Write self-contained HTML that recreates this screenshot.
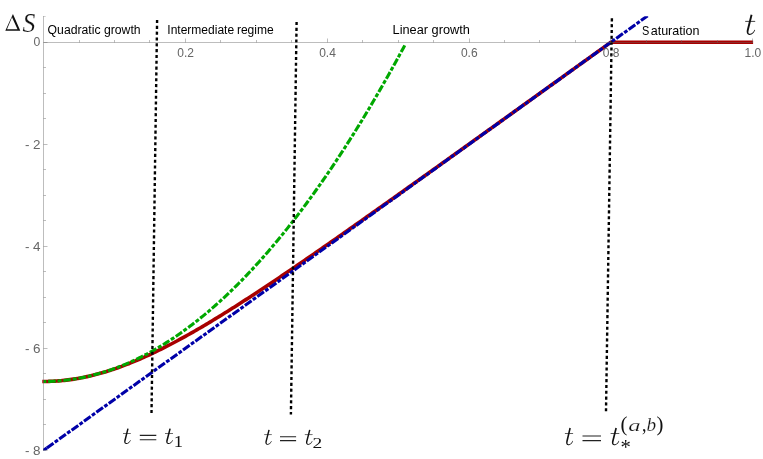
<!DOCTYPE html>
<html><head><meta charset="utf-8">
<style>
html,body{margin:0;padding:0;background:#fff;}
body{width:763px;height:459px;overflow:hidden;}
svg{display:block;will-change:transform;}
text{font-family:"Liberation Sans",sans-serif;}
.ser{font-family:"Liberation Serif",serif;}
</style></head><body>
<svg width="763" height="459" viewBox="0 0 763 459">
<rect width="763" height="459" fill="#fff"/>
<!-- region labels -->
<g fill="#000" font-size="12.3">
<text x="47.6" y="33.7" textLength="93" lengthAdjust="spacingAndGlyphs">Quadratic growth</text>
<text x="167.3" y="33.7" textLength="66.8" lengthAdjust="spacingAndGlyphs">Intermediate</text>
<text x="236.9" y="33.7" textLength="36.8" lengthAdjust="spacingAndGlyphs">regime</text>
<text x="392.6" y="33.7" textLength="77.3" lengthAdjust="spacingAndGlyphs">Linear growth</text>
<text x="641.9" y="35.3" font-size="12.9" textLength="7.3" lengthAdjust="spacingAndGlyphs">S</text>
<text x="650.7" y="35.3" font-size="12.9" textLength="48.8" lengthAdjust="spacingAndGlyphs">aturation</text>
</g>
<defs><clipPath id="cp"><rect x="43" y="16.2" width="720" height="434.4"/></clipPath></defs>
<!-- curves -->
<path d="M42.30,381.47 L43.60,381.47 L45.49,381.46 L47.38,381.43 L49.27,381.39 L51.16,381.32 L53.05,381.24 L54.94,381.14 L56.83,381.01 L58.73,380.88 L60.62,380.72 L62.51,380.54 L64.40,380.35 L66.29,380.14 L68.18,379.90 L70.07,379.66 L71.96,379.39 L73.85,379.11 L75.74,378.80 L77.63,378.48 L79.52,378.15 L81.41,377.79 L83.30,377.42 L85.19,377.03 L87.09,376.62 L88.98,376.20 L90.87,375.76 L92.76,375.30 L94.65,374.83 L96.54,374.34 L98.43,373.84 L100.32,373.32 L102.21,372.78 L104.10,372.23 L105.99,371.66 L107.88,371.07 L109.77,370.48 L111.66,369.86 L113.55,369.23 L115.45,368.59 L117.34,367.93 L119.23,367.26 L121.12,366.58 L123.01,365.88 L124.90,365.17 L126.79,364.44 L128.68,363.70 L130.57,362.95 L132.46,362.18 L134.35,361.41 L136.24,360.62 L138.13,359.81 L140.02,359.00 L141.91,358.17 L143.81,357.33 L145.70,356.48 L147.59,355.62 L149.48,354.75 L151.37,353.87 L153.26,352.98 L155.15,352.07 L157.04,351.16 L158.93,350.23 L160.82,349.30 L162.71,348.36 L164.60,347.40 L166.49,346.44 L168.38,345.47 L170.27,344.49 L172.17,343.50 L174.06,342.50 L175.95,341.49 L177.84,340.48 L179.73,339.45 L181.62,338.42 L183.51,337.38 L185.40,336.33 L187.29,335.28 L189.18,334.22 L191.07,333.15 L192.96,332.07 L194.85,330.99 L196.74,329.90 L198.63,328.80 L200.53,327.70 L202.42,326.59 L204.31,325.48 L206.20,324.35 L208.09,323.23 L209.98,322.09 L211.87,320.96 L213.76,319.81 L215.65,318.66 L217.54,317.51 L219.43,316.35 L221.32,315.18 L223.21,314.01 L225.10,312.84 L226.99,311.66 L228.89,310.48 L230.78,309.29 L232.67,308.09 L234.56,306.90 L236.45,305.70 L238.34,304.49 L240.23,303.28 L242.12,302.07 L244.01,300.85 L245.90,299.63 L247.79,298.41 L249.68,297.18 L251.57,295.95 L253.46,294.72 L255.35,293.48 L257.25,292.24 L259.14,291.00 L261.03,289.75 L262.92,288.50 L264.81,287.25 L266.70,285.99 L268.59,284.73 L270.48,283.47 L272.37,282.21 L274.26,280.94 L276.15,279.68 L278.04,278.40 L279.93,277.13 L281.82,275.86 L283.71,274.58 L285.61,273.30 L287.50,272.02 L289.39,270.73 L291.28,269.45 L293.17,268.16 L295.06,266.87 L296.95,265.58 L298.84,264.29 L300.73,262.99 L302.62,261.69 L304.51,260.40 L306.40,259.10 L308.29,257.79 L310.18,256.49 L312.07,255.19 L313.97,253.88 L315.86,252.57 L317.75,251.26 L319.64,249.95 L321.53,248.64 L323.42,247.33 L325.31,246.01 L327.20,244.70 L329.09,243.38 L330.98,242.07 L332.87,240.75 L334.76,239.43 L336.65,238.11 L338.54,236.78 L340.43,235.46 L342.33,234.14 L344.22,232.81 L346.11,231.49 L348.00,230.16 L349.89,228.83 L351.78,227.50 L353.67,226.17 L355.56,224.84 L357.45,223.51 L359.34,222.18 L361.23,220.85 L363.12,219.51 L365.01,218.18 L366.90,216.84 L368.79,215.51 L370.69,214.17 L372.58,212.84 L374.47,211.50 L376.36,210.16 L378.25,208.82 L380.14,207.48 L382.03,206.14 L383.92,204.80 L385.81,203.46 L387.70,202.12 L389.59,200.78 L391.48,199.44 L393.37,198.10 L395.26,196.75 L397.15,195.41 L399.05,194.06 L400.94,192.72 L402.83,191.38 L404.72,190.03 L406.61,188.68 L408.50,187.34 L410.39,185.99 L412.28,184.64 L414.17,183.30 L416.06,181.95 L417.95,180.60 L419.84,179.25 L421.73,177.91 L423.62,176.56 L425.51,175.21 L427.41,173.86 L429.30,172.51 L431.19,171.16 L433.08,169.81 L434.97,168.46 L436.86,167.11 L438.75,165.76 L440.64,164.40 L442.53,163.05 L444.42,161.70 L446.31,160.35 L448.20,159.00 L450.09,157.64 L451.98,156.29 L453.87,154.94 L455.77,153.59 L457.66,152.23 L459.55,150.88 L461.44,149.53 L463.33,148.17 L465.22,146.82 L467.11,145.46 L469.00,144.11 L470.89,142.76 L472.78,141.40 L474.67,140.05 L476.56,138.69 L478.45,137.34 L480.34,135.98 L482.23,134.63 L484.13,133.27 L486.02,131.92 L487.91,130.56 L489.80,129.21 L491.69,127.85 L493.58,126.49 L495.47,125.14 L497.36,123.78 L499.25,122.42 L501.14,121.07 L503.03,119.71 L504.92,118.36 L506.81,117.00 L508.70,115.64 L510.59,114.29 L512.49,112.93 L514.38,111.57 L516.27,110.21 L518.16,108.86 L520.05,107.50 L521.94,106.14 L523.83,104.79 L525.72,103.43 L527.61,102.07 L529.50,100.71 L531.39,99.36 L533.28,98.00 L535.17,96.64 L537.06,95.28 L538.95,93.92 L540.85,92.57 L542.74,91.21 L544.63,89.85 L546.52,88.49 L548.41,87.13 L550.30,85.78 L552.19,84.42 L554.08,83.06 L555.97,81.70 L557.86,80.34 L559.75,78.98 L561.64,77.63 L563.53,76.27 L565.42,74.91 L567.31,73.55 L569.21,72.19 L571.10,70.83 L572.99,69.47 L574.88,68.11 L576.77,66.76 L578.66,65.40 L580.55,64.04 L582.44,62.68 L584.33,61.32 L586.22,59.96 L588.11,58.60 L590.00,57.24 L591.89,55.88 L593.78,54.53 L595.67,53.17 L597.57,51.81 L599.46,50.45 L601.35,49.09 L603.24,47.73 L605.13,46.37 L607.02,45.01 L608.91,43.65 L610.80,42.32 L753.10,42.32" fill="none" stroke="#a80000" stroke-width="3.6" stroke-linejoin="round"/>
<path d="M43.60,381.47 L45.41,381.46 L47.22,381.44 L49.03,381.39 L50.84,381.33 L52.65,381.26 L54.46,381.17 L56.27,381.06 L58.08,380.93 L59.89,380.79 L61.70,380.63 L63.51,380.45 L65.32,380.25 L67.13,380.04 L68.94,379.82 L70.75,379.57 L72.56,379.31 L74.37,379.03 L76.18,378.73 L77.99,378.42 L79.80,378.09 L81.61,377.75 L83.42,377.38 L85.23,377.00 L87.04,376.61 L88.85,376.19 L90.66,375.76 L92.47,375.32 L94.28,374.85 L96.09,374.37 L97.90,373.87 L99.71,373.36 L101.52,372.83 L103.33,372.28 L105.14,371.71 L106.95,371.13 L108.76,370.53 L110.57,369.91 L112.38,369.28 L114.19,368.63 L116.00,367.96 L117.81,367.28 L119.62,366.58 L121.43,365.86 L123.24,365.13 L125.05,364.37 L126.86,363.61 L128.67,362.82 L130.48,362.02 L132.29,361.20 L134.10,360.36 L135.91,359.51 L137.72,358.64 L139.53,357.76 L141.34,356.85 L143.15,355.93 L144.96,354.99 L146.77,354.04 L148.58,353.07 L150.39,352.08 L152.20,351.08 L154.01,350.06 L155.82,349.02 L157.63,347.96 L159.44,346.89 L161.25,345.80 L163.06,344.70 L164.87,343.57 L166.68,342.43 L168.49,341.28 L170.30,340.10 L172.11,338.91 L173.92,337.70 L175.73,336.48 L177.54,335.24 L179.35,333.98 L181.16,332.71 L182.97,331.42 L184.78,330.11 L186.59,328.78 L188.40,327.44 L190.21,326.08 L192.02,324.70 L193.83,323.31 L195.64,321.90 L197.45,320.47 L199.26,319.03 L201.07,317.57 L202.88,316.09 L204.69,314.60 L206.50,313.09 L208.31,311.56 L210.12,310.01 L211.93,308.45 L213.74,306.87 L215.55,305.28 L217.36,303.67 L219.17,302.04 L220.98,300.39 L222.79,298.73 L224.60,297.05 L226.41,295.35 L228.22,293.64 L230.03,291.91 L231.84,290.16 L233.65,288.39 L235.46,286.61 L237.27,284.81 L239.08,283.00 L240.89,281.17 L242.70,279.32 L244.51,277.45 L246.32,275.57 L248.13,273.67 L249.94,271.75 L251.75,269.82 L253.56,267.87 L255.37,265.90 L257.18,263.92 L258.99,261.92 L260.80,259.90 L262.61,257.87 L264.42,255.81 L266.23,253.75 L268.04,251.66 L269.85,249.56 L271.66,247.44 L273.47,245.30 L275.28,243.15 L277.09,240.98 L278.90,238.79 L280.71,236.59 L282.52,234.37 L284.33,232.13 L286.14,229.88 L287.95,227.61 L289.76,225.32 L291.57,223.02 L293.38,220.69 L295.19,218.36 L297.00,216.00 L298.81,213.63 L300.62,211.24 L302.43,208.83 L304.24,206.41 L306.05,203.97 L307.86,201.51 L309.67,199.04 L311.48,196.55 L313.29,194.04 L315.10,191.52 L316.91,188.98 L318.72,186.42 L320.53,183.84 L322.34,181.25 L324.15,178.64 L325.96,176.02 L327.77,173.37 L329.58,170.72 L331.39,168.04 L333.20,165.35 L335.01,162.64 L336.82,159.91 L338.63,157.17 L340.44,154.40 L342.25,151.63 L344.06,148.83 L345.87,146.02 L347.68,143.19 L349.49,140.35 L351.30,137.49 L353.11,134.61 L354.92,131.71 L356.73,128.80 L358.54,125.87 L360.35,122.92 L362.16,119.96 L363.97,116.98 L365.78,113.98 L367.59,110.97 L369.40,107.94 L371.21,104.89 L373.02,101.83 L374.83,98.74 L376.64,95.65 L378.45,92.53 L380.26,89.40 L382.07,86.25 L383.88,83.08 L385.69,79.90 L387.50,76.70 L389.31,73.49 L391.12,70.25 L392.93,67.00 L394.74,63.73 L396.55,60.45 L398.36,57.15 L400.17,53.83 L401.98,50.50 L403.79,47.15 L405.60,43.78" fill="none" stroke="#00a800" stroke-width="3.1" stroke-dasharray="7.62 1.81 4.01 1.81" stroke-dashoffset="10.74"/>
<g clip-path="url(#cp)"><path d="M41.16,452.07 L46.85,447.98" fill="none" stroke="#0000a8" stroke-width="3.1"/>
<path d="M46.85,447.98 L647.66,15.81" fill="none" stroke="#0000a8" stroke-width="3.1" stroke-dasharray="8.2 1.624 3.8 1.624"/></g>
<!-- dotted verticals -->
<g stroke="#000" stroke-width="2.4" fill="none" stroke-dasharray="3.1 2.72">
<line x1="157.1" y1="20" x2="151.5" y2="413.3"/>
<line x1="296.6" y1="22" x2="290.9" y2="414.6"/>
<line x1="611.9" y1="18.3" x2="606" y2="411.2"/>
</g>
<!-- axes -->
<g stroke="#666" stroke-opacity="0.43" stroke-width="1" fill="none">
<line x1="43.5" y1="16" x2="43.5" y2="451"/>
<line x1="43.5" y1="42.5" x2="753.00" y2="42.5"/>
<line x1="43.5" y1="16.5" x2="45.7" y2="16.5" stroke-opacity="0.3"/>
<line x1="79.50" y1="42.50" x2="79.50" y2="40.00"/>
<line x1="114.50" y1="42.50" x2="114.50" y2="40.00"/>
<line x1="149.50" y1="42.50" x2="149.50" y2="40.00"/>
<line x1="185.50" y1="42.50" x2="185.50" y2="38.50"/>
<line x1="220.50" y1="42.50" x2="220.50" y2="40.00"/>
<line x1="256.50" y1="42.50" x2="256.50" y2="40.00"/>
<line x1="291.50" y1="42.50" x2="291.50" y2="40.00"/>
<line x1="327.50" y1="42.50" x2="327.50" y2="38.50"/>
<line x1="362.50" y1="42.50" x2="362.50" y2="40.00"/>
<line x1="398.50" y1="42.50" x2="398.50" y2="40.00"/>
<line x1="433.50" y1="42.50" x2="433.50" y2="40.00"/>
<line x1="469.50" y1="42.50" x2="469.50" y2="38.50"/>
<line x1="504.50" y1="42.50" x2="504.50" y2="40.00"/>
<line x1="539.50" y1="42.50" x2="539.50" y2="40.00"/>
<line x1="575.50" y1="42.50" x2="575.50" y2="40.00"/>
<line x1="610.50" y1="42.50" x2="610.50" y2="38.50"/>
<line x1="646.50" y1="42.50" x2="646.50" y2="40.00"/>
<line x1="681.50" y1="42.50" x2="681.50" y2="40.00"/>
<line x1="717.50" y1="42.50" x2="717.50" y2="40.00"/>
<line x1="752.50" y1="42.50" x2="752.50" y2="38.50"/>
<line x1="43.50" y1="42.50" x2="47.50" y2="42.50"/>
<line x1="43.50" y1="67.50" x2="46.00" y2="67.50"/>
<line x1="43.50" y1="93.50" x2="46.00" y2="93.50"/>
<line x1="43.50" y1="118.50" x2="46.00" y2="118.50"/>
<line x1="43.50" y1="144.50" x2="47.50" y2="144.50"/>
<line x1="43.50" y1="169.50" x2="46.00" y2="169.50"/>
<line x1="43.50" y1="195.50" x2="46.00" y2="195.50"/>
<line x1="43.50" y1="220.50" x2="46.00" y2="220.50"/>
<line x1="43.50" y1="246.50" x2="47.50" y2="246.50"/>
<line x1="43.50" y1="271.50" x2="46.00" y2="271.50"/>
<line x1="43.50" y1="297.50" x2="46.00" y2="297.50"/>
<line x1="43.50" y1="322.50" x2="46.00" y2="322.50"/>
<line x1="43.50" y1="348.50" x2="47.50" y2="348.50"/>
<line x1="43.50" y1="373.50" x2="46.00" y2="373.50"/>
<line x1="43.50" y1="399.50" x2="46.00" y2="399.50"/>
<line x1="43.50" y1="424.50" x2="46.00" y2="424.50"/>
<line x1="43.50" y1="450.50" x2="47.50" y2="450.50"/>
</g>
<!-- tick labels -->
<g fill="#666" font-size="12.2">
<text x="185.70" y="56.9" text-anchor="middle" textLength="16.7" lengthAdjust="spacingAndGlyphs">0.2</text>
<text x="327.50" y="56.9" text-anchor="middle" textLength="16.7" lengthAdjust="spacingAndGlyphs">0.4</text>
<text x="469.30" y="56.9" text-anchor="middle" textLength="16.7" lengthAdjust="spacingAndGlyphs">0.6</text>
<text x="611.10" y="56.9" text-anchor="middle" textLength="16.7" lengthAdjust="spacingAndGlyphs">0.8</text>
<text x="752.90" y="56.9" text-anchor="middle" textLength="16.7" lengthAdjust="spacingAndGlyphs">1.0</text>
<text x="40.4" y="46.32" text-anchor="end">0</text>
<text x="40.6" y="148.72" text-anchor="end" textLength="15.7" lengthAdjust="spacingAndGlyphs">- 2</text>
<text x="40.6" y="250.72" text-anchor="end" textLength="15.7" lengthAdjust="spacingAndGlyphs">- 4</text>
<text x="40.6" y="352.72" text-anchor="end" textLength="15.7" lengthAdjust="spacingAndGlyphs">- 6</text>
<text x="40.6" y="454.72" text-anchor="end" textLength="15.7" lengthAdjust="spacingAndGlyphs">- 8</text>
</g>
<!-- math labels -->
<path fill-rule="evenodd" fill="#111" d="M12.95,14.1 L20.3,30.8 L5.3,30.8 Z M12.0,17.3 L17.5,29.2 L7.0,29.2 Z"/>
<text transform="translate(22.54,31.84) scale(0.972,1)" font-size="26.42" font-style="italic" class="ser" fill="#111" stroke="#fff" stroke-width="0.20">S</text>
<path d="M750.63,14.48 L746.83,30.08 L746.73,30.75 L746.70,31.37 L746.72,31.97 L746.80,32.53 L746.94,33.05 L747.15,33.53 L747.42,33.96 L747.76,34.32 L748.16,34.60 L748.61,34.79 L749.10,34.89 L749.60,34.90 L750.19,34.84 L750.77,34.70 L751.33,34.49 L751.87,34.21 L752.38,33.86 L752.87,33.46 L753.33,32.99 L753.76,32.48 L754.15,31.91 L754.52,31.29 L754.85,30.63 L755.15,29.93 L754.55,29.67 L754.24,30.33 L753.89,30.93 L753.53,31.48 L753.13,31.97 L752.72,32.41 L752.29,32.79 L751.85,33.12 L751.41,33.38 L750.96,33.58 L750.50,33.71 L750.05,33.79 L749.60,33.80 L749.30,33.74 L749.06,33.64 L748.87,33.51 L748.72,33.35 L748.61,33.15 L748.52,32.92 L748.45,32.64 L748.42,32.30 L748.42,31.92 L748.46,31.49 L748.54,31.02 L748.67,30.52 L752.47,14.92Z" fill="#111"/><path d="M745.20,20.90 H755.20 V21.70 H745.20Z" fill="#111"/>
<path d="M127.23,428.53 L124.27,440.29 L124.20,440.79 L124.17,441.27 L124.18,441.72 L124.25,442.14 L124.36,442.53 L124.52,442.89 L124.73,443.21 L125.00,443.49 L125.31,443.70 L125.66,443.84 L126.04,443.92 L126.43,443.92 L126.90,443.88 L127.35,443.78 L127.78,443.61 L128.20,443.40 L128.60,443.14 L128.98,442.84 L129.34,442.49 L129.67,442.10 L129.98,441.67 L130.27,441.20 L130.53,440.71 L130.76,440.18 L130.30,439.98 L130.05,440.48 L129.78,440.93 L129.49,441.34 L129.19,441.72 L128.87,442.05 L128.53,442.34 L128.19,442.58 L127.84,442.78 L127.49,442.93 L127.14,443.03 L126.78,443.09 L126.43,443.10 L126.19,443.05 L126.01,442.98 L125.86,442.88 L125.75,442.76 L125.66,442.61 L125.59,442.43 L125.54,442.22 L125.51,441.97 L125.51,441.68 L125.54,441.36 L125.61,441.00 L125.71,440.63 L128.67,428.87Z" fill="#111"/><path d="M123.00,433.37 H130.80 V433.98 H123.00Z" fill="#111"/>
<path d="M139.8,435.4 H156.3 M139.8,439.7 H156.3" stroke="#222" stroke-width="1.1" fill="none"/>
<path d="M169.34,428.53 L166.30,440.29 L166.23,440.79 L166.20,441.27 L166.21,441.72 L166.28,442.14 L166.39,442.53 L166.56,442.89 L166.78,443.21 L167.05,443.49 L167.37,443.70 L167.73,443.84 L168.12,443.92 L168.52,443.92 L169.00,443.88 L169.46,443.78 L169.91,443.61 L170.34,443.40 L170.75,443.14 L171.13,442.84 L171.50,442.49 L171.84,442.10 L172.16,441.67 L172.46,441.20 L172.72,440.71 L172.96,440.18 L172.48,439.98 L172.23,440.48 L171.96,440.93 L171.66,441.34 L171.35,441.72 L171.02,442.05 L170.68,442.34 L170.32,442.58 L169.97,442.78 L169.60,442.93 L169.24,443.03 L168.88,443.09 L168.52,443.10 L168.28,443.05 L168.08,442.98 L167.94,442.88 L167.82,442.76 L167.73,442.61 L167.65,442.43 L167.60,442.22 L167.57,441.97 L167.57,441.68 L167.61,441.36 L167.68,441.00 L167.78,440.63 L170.82,428.87Z" fill="#111"/><path d="M165.00,433.36 H173.00 V433.98 H165.00Z" fill="#111"/>
<text transform="translate(173.63,447.00) scale(1.159,1)" font-size="16.03" font-style="normal" class="ser" fill="#111">1</text>
<path d="M268.32,429.73 L265.44,441.19 L265.36,441.68 L265.34,442.14 L265.35,442.58 L265.42,442.99 L265.52,443.37 L265.68,443.72 L265.89,444.03 L266.15,444.30 L266.45,444.51 L266.79,444.65 L267.16,444.72 L267.54,444.73 L268.00,444.68 L268.44,444.58 L268.86,444.42 L269.27,444.22 L269.66,443.96 L270.03,443.67 L270.38,443.33 L270.70,442.95 L271.01,442.53 L271.28,442.08 L271.54,441.59 L271.76,441.08 L271.31,440.89 L271.07,441.37 L270.81,441.81 L270.53,442.21 L270.23,442.58 L269.92,442.90 L269.59,443.18 L269.26,443.42 L268.92,443.61 L268.57,443.76 L268.23,443.86 L267.89,443.91 L267.54,443.92 L267.31,443.88 L267.13,443.80 L266.99,443.71 L266.88,443.59 L266.79,443.45 L266.72,443.27 L266.67,443.06 L266.64,442.82 L266.65,442.54 L266.68,442.23 L266.74,441.88 L266.84,441.51 L269.73,430.07Z" fill="#111"/><path d="M264.20,434.45 H271.80 V435.04 H264.20Z" fill="#111"/>
<path d="M280.0,436.7 H296.1 M280.0,440.6 H296.1" stroke="#222" stroke-width="1.1" fill="none"/>
<path d="M309.03,429.73 L306.07,441.19 L306.00,441.68 L305.97,442.14 L305.98,442.58 L306.05,442.99 L306.16,443.37 L306.32,443.72 L306.53,444.03 L306.80,444.30 L307.11,444.51 L307.46,444.65 L307.84,444.72 L308.23,444.73 L308.70,444.68 L309.15,444.58 L309.58,444.42 L310.00,444.22 L310.40,443.96 L310.78,443.67 L311.14,443.33 L311.47,442.95 L311.78,442.53 L312.07,442.08 L312.33,441.59 L312.56,441.08 L312.10,440.89 L311.85,441.37 L311.58,441.81 L311.29,442.21 L310.99,442.58 L310.67,442.90 L310.33,443.18 L309.99,443.42 L309.64,443.61 L309.29,443.76 L308.94,443.86 L308.58,443.91 L308.23,443.92 L307.99,443.88 L307.81,443.80 L307.66,443.71 L307.55,443.59 L307.46,443.45 L307.39,443.27 L307.34,443.06 L307.31,442.82 L307.31,442.54 L307.34,442.23 L307.41,441.88 L307.51,441.51 L310.47,430.07Z" fill="#111"/><path d="M304.80,434.44 H312.60 V435.05 H304.80Z" fill="#111"/>
<text transform="translate(312.62,447.50) scale(1.300,1)" font-size="15.00" font-style="normal" class="ser" fill="#111">2</text>
<path d="M569.35,427.81 L566.23,441.10 L566.16,441.67 L566.13,442.21 L566.15,442.72 L566.21,443.20 L566.33,443.64 L566.50,444.05 L566.72,444.41 L567.00,444.72 L567.33,444.96 L567.70,445.12 L568.09,445.21 L568.51,445.21 L569.00,445.16 L569.47,445.05 L569.93,444.86 L570.37,444.62 L570.79,444.33 L571.19,443.98 L571.56,443.59 L571.92,443.15 L572.24,442.66 L572.54,442.14 L572.82,441.58 L573.06,440.98 L572.57,440.75 L572.31,441.32 L572.03,441.83 L571.73,442.30 L571.41,442.72 L571.07,443.10 L570.72,443.42 L570.36,443.70 L569.99,443.92 L569.62,444.09 L569.25,444.20 L568.88,444.27 L568.51,444.28 L568.26,444.23 L568.06,444.14 L567.91,444.03 L567.79,443.89 L567.69,443.73 L567.62,443.53 L567.57,443.28 L567.54,443.00 L567.54,442.68 L567.57,442.31 L567.64,441.91 L567.75,441.48 L570.86,428.19Z" fill="#111"/><path d="M564.90,433.29 H573.10 V433.96 H564.90Z" fill="#111"/>
<path d="M582.5,436.0 H601.0 M582.5,440.6 H601.0" stroke="#222" stroke-width="1.2" fill="none"/>
<path d="M615.32,427.81 L612.02,441.10 L611.93,441.67 L611.90,442.21 L611.92,442.72 L611.99,443.20 L612.11,443.64 L612.29,444.05 L612.53,444.41 L612.83,444.72 L613.18,444.96 L613.57,445.12 L613.99,445.21 L614.43,445.21 L614.95,445.16 L615.45,445.05 L615.94,444.86 L616.40,444.62 L616.85,444.33 L617.27,443.98 L617.67,443.59 L618.04,443.15 L618.39,442.66 L618.71,442.14 L619.00,441.58 L619.25,440.98 L618.74,440.75 L618.46,441.32 L618.16,441.83 L617.84,442.30 L617.50,442.72 L617.14,443.10 L616.77,443.42 L616.39,443.70 L616.00,443.92 L615.61,444.09 L615.21,444.20 L614.82,444.27 L614.43,444.28 L614.16,444.23 L613.95,444.14 L613.79,444.03 L613.67,443.89 L613.56,443.73 L613.48,443.53 L613.43,443.28 L613.40,443.00 L613.40,442.68 L613.44,442.31 L613.51,441.91 L613.62,441.48 L616.93,428.19Z" fill="#111"/><path d="M610.60,433.28 H619.30 V433.97 H610.60Z" fill="#111"/>
<text transform="translate(620.56,453.86) scale(1.010,1)" font-size="20.55" font-style="normal" class="ser" fill="#111">*</text>
<text transform="translate(620.46,431.20) scale(0.969,1)" font-size="21.44" font-style="normal" class="ser" fill="#111">(</text>
<text transform="translate(628.26,430.94) scale(1.498,1)" font-size="16.46" font-style="italic" class="ser" fill="#111" stroke="#fff" stroke-width="0.20">a</text>
<text transform="translate(641.88,431.14) scale(0.879,1)" font-size="20.39" font-style="normal" class="ser" fill="#111">,</text>
<text transform="translate(646.43,430.91) scale(1.001,1)" font-size="19.29" font-style="italic" class="ser" fill="#111" stroke="#fff" stroke-width="0.20">b</text>
<text transform="translate(656.48,431.20) scale(0.969,1)" font-size="21.44" font-style="normal" class="ser" fill="#111">)</text>
</svg>
</body></html>
